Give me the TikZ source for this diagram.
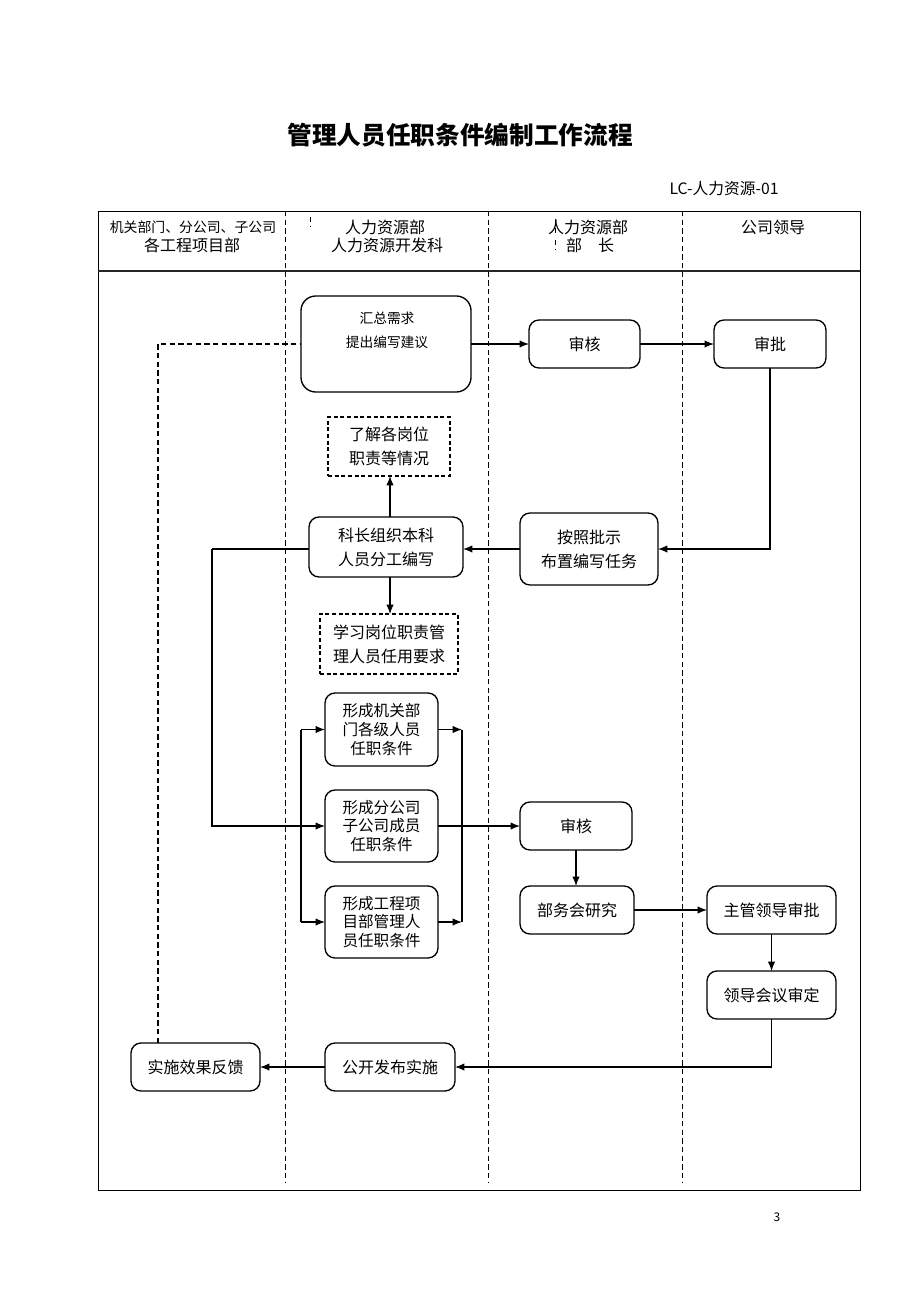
\documentclass[tikz,border=0pt]{standalone}
\usepackage{fontspec}
\setmainfont{Noto Sans CJK SC}
\usetikzlibrary{arrows.meta}
\tikzset{
  sz/.style 2 args={minimum width=#1*0.75pt, minimum height=#2*0.75pt},
  box/.style={draw, line width=1pt, rounded corners=7.5pt, inner sep=0pt, outer sep=0pt, align=center, font=\fontsize{12}{18}\selectfont},
  gbox/.style={box, font=\fontsize{11.7}{13.9}\selectfont},
  dbox/.style={draw, line width=0.9pt, dash pattern=on 3pt off 2pt, inner sep=0pt, outer sep=0pt, align=center, font=\fontsize{12}{18}\selectfont},
  txt/.style={inner sep=0pt, align=center},
  arr/.style={line width=0.9pt, -{Latex[length=7pt,width=5.5pt]}},
  ln/.style={line width=0.9pt},
  lane/.style={line width=0.7pt, dash pattern=on 4pt off 2.5pt},
  fb/.style={line width=0.8pt, dash pattern=on 4pt off 2.5pt},
}
\begin{document}
\begin{tikzpicture}[x=0.75pt,y=-0.75pt]
\useasboundingbox (0,0) rectangle (920,1302);
% title and code
\node[txt, font=\fontsize{18.5}{20}\selectfont\bfseries] (title) at (460,135) {管理人员任职条件编制工作流程};
\node[txt, font=\fontsize{11.8}{13}\selectfont] (code) at (724,189) {LC-人力资源-01};
\node[txt, font=\fontsize{9}{10}\selectfont] (page) at (777,1217) {3};
% frame
\draw[line width=0.7pt] (98,211) rectangle (860,1190);
\draw[line width=1.3pt, draw=black!85] (98,271) -- (860,271);
\foreach \x in {285,488,682} \draw[lane] (\x,211) -- (\x,1183);
\draw[lane] (310,217) -- (310,226);
\draw[lane] (555,219) -- (555,233);
\draw[lane] (555,240) -- (555,250);
% header
\node[txt, font=\fontsize{10.4}{12}\selectfont] (h1a) at (193,227) {机关部门、分公司、子公司};
\node[txt, font=\fontsize{12}{14}\selectfont] (h1b) at (192,245) {各工程项目部};
\node[txt, font=\fontsize{12}{14}\selectfont] (h2a) at (385,227) {人力资源部};
\node[txt, font=\fontsize{12}{14}\selectfont] (h2b) at (387,245) {人力资源开发科};
\node[txt, font=\fontsize{12}{14}\selectfont] (h3a) at (588,227) {人力资源部};
\node[txt, font=\fontsize{12}{14}\selectfont] (h3b) at (590,245) {部　长};
\node[txt, font=\fontsize{12}{14}\selectfont] (h4a) at (773,227) {公司领导};
% nodes
\node[box, sz={170}{96}, rounded corners=11pt] (n1) at (386,344) {};
\node[txt, font=\fontsize{10.3}{18}\selectfont] (n1t) at (387,330) {汇总需求\\提出编写建议};
\node[box, sz={111}{48}] (n2) at (584.5,344) {审核};
\node[box, sz={112}{48}] (n3) at (770,344) {审批};
\node[dbox, sz={122}{59}] (d1) at (389,446.5) {了解各岗位\\职责等情况};
\node[box, sz={154}{60}] (n5) at (386,547) {科长组织本科\\人员分工编写};
\node[box, sz={138}{72}] (n6) at (589,549) {按照批示\\布置编写任务};
\node[dbox, sz={138}{60}] (d2) at (389,644) {学习岗位职责管\\理人员任用要求};
\node[gbox, sz={113}{73}] (g1) at (381.5,729.5) {形成机关部\\门各级人员\\任职条件};
\node[gbox, sz={113}{72}] (g2) at (381.5,826) {形成分公司\\子公司成员\\任职条件};
\node[gbox, sz={113}{72}] (g3) at (381.5,922) {形成工程项\\目部管理人\\员任职条件};
\node[box, sz={112}{48}] (n10) at (576,826) {审核};
\node[box, sz={114}{48}] (n11) at (577,910) {部务会研究};
\node[box, sz={129}{48}] (n12) at (771.5,910) {主管领导审批};
\node[box, sz={129}{48}] (n13) at (771.5,995) {领导会议审定};
\node[box, sz={130}{48}] (n14) at (390,1067) {公开发布实施};
\node[box, sz={129}{48}] (n15) at (195.5,1067) {实施效果反馈};
% coordinates
\coordinate (c1) at (212,549);
\coordinate (bl1) at (301,729.5);
\coordinate (bl3) at (301,922);
\coordinate (br1) at (462,729.5);
\coordinate (br3) at (462,922);
\coordinate (fb0) at (158,1043);
% connectors
\draw[arr] (n1.east) -- (n2.west);
\draw[arr] (n2.east) -- (n3.west);
\draw[arr] (n3.south) |- (n6.east);
\draw[arr] (n6.west) -- (n6.west -| n5.east);
\draw[arr] ([xshift=3pt]n5.north) -- ([xshift=3pt]n5.north |- d1.south);
\draw[arr] ([xshift=3pt]n5.south) -- ([xshift=3pt]n5.south |- d2.north);
\draw[ln] (n6.west -| n5.west) -- (c1);
\draw[arr] (c1) |- (g2.west);
\draw[ln] (bl1) -- (bl3);
\draw[arr] (bl1) -- (g1.west);
\draw[arr] (bl3) -- (g3.west);
\draw[arr] (g1.east) -- (br1);
\draw[arr] (g3.east) -- (br3);
\draw[ln] (br1) -- (br3);
\draw[arr] (g2.east) -- (n10.west);
\draw[arr] (n10.south) -- (n10.south |- n11.north);
\draw[arr] (n11.east) -- (n12.west);
\draw[arr] (n12.south) -- (n13.north);
\draw[arr] (n13.south) |- (n14.east);
\draw[arr] (n14.west) -- (n15.east);
\draw[fb] (fb0) |- (n1.west);
\end{tikzpicture}
\end{document}
